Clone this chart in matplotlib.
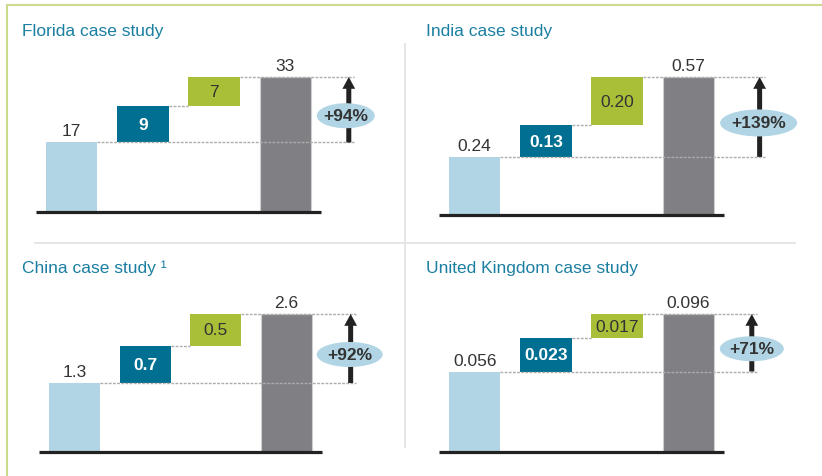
import matplotlib
matplotlib.use("Agg")
import matplotlib.pyplot as plt
from matplotlib.lines import Line2D
from matplotlib.patches import Ellipse

plt.rcParams['font.family'] = ['Liberation Sans', 'DejaVu Sans']

# ---------------- data ----------------
titles = ["Florida case study", "India case study", "China case study \u00b9", "United Kingdom case study"]
base_vals = [17, 0.24, 1.3, 0.056]
step1_vals = [9, 0.13, 0.7, 0.023]
step2_vals = [7, 0.20, 0.5, 0.017]
total_vals = [33, 0.57, 2.6, 0.096]
base_labels = ["17", "0.24", "1.3", "0.056"]
step1_labels = ["9", "0.13", "0.7", "0.023"]
step2_labels = ["7", "0.20", "0.5", "0.017"]
total_labels = ["33", "0.57", "2.6", "0.096"]
pct_labels = ["+94%", "+139%", "+92%", "+71%"]

# ---------------- layout (pixels) ----------------
W, H = 822, 477
fig = plt.figure(figsize=(W / 100, H / 100), dpi=100)

def fx(px):
    return px / W

def fy(py):
    return 1 - py / H

panel_geo = [(36, 321, 213), (439, 724, 216), (39, 322, 453), (439, 724, 453)]
title_pos = [(22, 36), (426, 36), (22, 273), (426, 273)]
px_total = [135, 138, 138, 138]
arrow_x = [3.89, 4.0, 3.905, 3.89]
ell_dx = [-3, -1, -1, 0]
ell_w = [58, 77, 66, 64]
ell_h = [25, 27, 25, 25]
AX_H = 160

c_light = '#b1d5e4'
c_teal = '#006f91'
c_green = '#a9bf38'
c_gray = '#807f84'
c_text = '#333333'
c_title = '#1b7fa2'
c_dot = '#adadad'
FS = 12.5
bw = 0.72

for i in range(4):
    left, right, basey = panel_geo[i]
    ax = fig.add_axes([fx(left), fy(basey), (right - left) / W, AX_H / H])
    ytop = total_vals[i] * AX_H / px_total[i]
    ax.set_xlim(-0.5, 3.5)
    ax.set_ylim(0, ytop)
    ax.axis('off')
    pxx = (right - left) / 4.0
    pxy = AX_H / ytop

    b = base_vals[i]
    s1 = step1_vals[i]
    t = total_vals[i]
    mid = b + s1

    ax.bar(0, b, width=bw, color=c_light, zorder=2)
    ax.bar(1, s1, bottom=b, width=bw, color=c_teal, zorder=2)
    ax.bar(2, t - mid, bottom=mid, width=bw, color=c_green, zorder=2)
    ax.bar(3, t, width=bw, color=c_gray, edgecolor='#cfcfcf', linewidth=0.8, zorder=2)

    ax.plot([-0.5, 3.5], [0, 0], color='#222222', lw=2.3, solid_capstyle='butt',
            clip_on=False, zorder=4)

    dend = arrow_x[i] + 0.08
    dkw = dict(color=c_dot, lw=1.0, linestyle=(0, (2, 1)), clip_on=False, zorder=3)
    ax.plot([bw / 2, dend], [b, b], **dkw)
    ax.plot([1 + bw / 2, 2 - bw / 2], [mid, mid], **dkw)
    ax.plot([2 + bw / 2, dend], [t, t], **dkw)

    off = 4 / pxy
    ax.text(0, b + off, base_labels[i], ha='center', va='bottom', fontsize=FS, color=c_text)
    ax.text(1, b + s1 / 2, step1_labels[i], ha='center', va='center', fontsize=FS,
            color='white', fontweight='bold', zorder=5)
    ax.text(2, (mid + t) / 2, step2_labels[i], ha='center', va='center', fontsize=FS,
            color=c_text, zorder=5)
    ax.text(3, t + off, total_labels[i], ha='center', va='bottom', fontsize=FS, color=c_text)

    ax.annotate('', xy=(arrow_x[i], t), xytext=(arrow_x[i], b),
                arrowprops=dict(arrowstyle='simple,head_length=0.85,head_width=0.92,tail_width=0.36',
                                fc='#222222', ec='none', lw=0, shrinkA=0, shrinkB=0,
                                mutation_scale=10),
                annotation_clip=False, zorder=5)
    ey = (b + t) / 2 - 6 / pxy
    ex = arrow_x[i] + ell_dx[i] / pxx
    ell = Ellipse((ex, ey), ell_w[i] / pxx, ell_h[i] / pxy, facecolor=c_light,
                  edgecolor='none', clip_on=False, zorder=6)
    ax.add_patch(ell)
    ax.text(ex, ey, pct_labels[i], ha='center', va='center', fontsize=FS,
            fontweight='bold', color=c_text, zorder=7, clip_on=False)

    fig.text(fx(title_pos[i][0]), fy(title_pos[i][1]), titles[i], ha='left',
             va='baseline', fontsize=FS, color=c_title)

# frame and separators
border = '#cbdb8c'
fig.add_artist(Line2D([fx(7), fx(822)], [fy(6), fy(6)], color=border, lw=1.5))
fig.add_artist(Line2D([fx(7), fx(7)], [fy(6), fy(477)], color=border, lw=1.5))
sep = '#e2e2e2'
fig.add_artist(Line2D([fx(405), fx(405)], [fy(45), fy(448)], color=sep, lw=1.2))
fig.add_artist(Line2D([fx(35), fx(795)], [fy(244), fy(244)], color=sep, lw=1.2))

fig.savefig('out.png', dpi=100)
